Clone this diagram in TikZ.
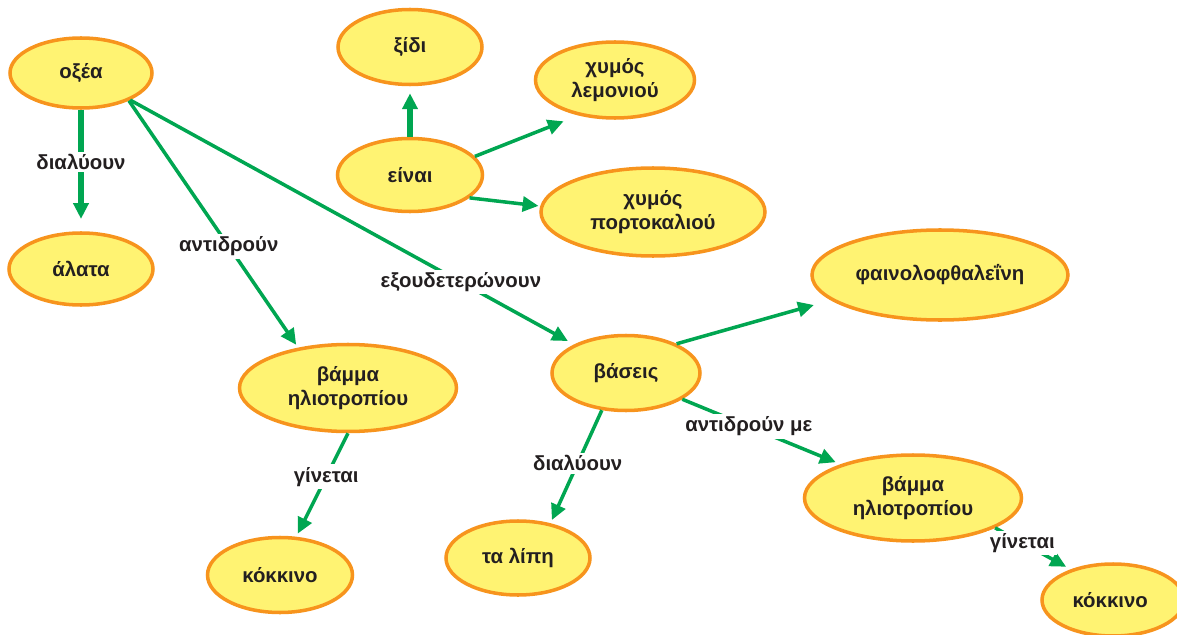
\documentclass[tikz,border=0pt]{standalone}
\usepackage{fontspec}
\setmainfont{Liberation Sans}
\usetikzlibrary{shapes.geometric,arrows.meta}
\definecolor{leaf}{HTML}{00A651}
\definecolor{lemon}{HTML}{FFF372}
\definecolor{peel}{HTML}{F7941D}
\definecolor{ink}{HTML}{231F20}
\tikzset{
  bubble/.style={ellipse,draw=peel,fill=lemon,line width=2pt,inner sep=0pt,text=ink,
    align=center,font=\fontsize{11.6}{13.6}\selectfont\bfseries},
  link/.style={draw=leaf,-{Triangle[length=9pt,width=8.5pt]}},
  verb/.style={fill=white,inner sep=1.5pt,text=ink,font=\fontsize{11.6}{13.6}\selectfont\bfseries}
}
\begin{document}
\begin{tikzpicture}[x=0.02cm,y=-0.02cm]
   \useasboundingbox (0,0) rectangle (1177,635);
   \foreach \n/\x/\y/\w/\h/\t in
     {acid/81/73/142/70/{οξέα},
      salts/81/269/144/72/{άλατα},
      vinegar/410/47/144/75/{ξίδι},
      is/410/175/145/73/{είναι},
      lemon/615/80/159/76/{χυμός\\λεμονιού},
      orange/653/212/224/88/{χυμός\\πορτοκαλιού},
      phenol/940/275/256/90/{φαινολοφθαλεΐνη},
      litmusL/348/388/217/87/{βάμμα\\ηλιοτροπίου},
      bases/626/373/148/75/{βάσεις},
      fats/518/558/144/74/{τα λίπη},
      redL/280/575/145/75/{κόκκινο},
      litmusR/913/498/217/86/{βάμμα\\ηλιοτροπίου},
      redR/1113/600/142/72/{κόκκινο}
     }
     \node[bubble,minimum width=\w*0.02cm,minimum height=\h*0.02cm] (\n) at (\x,\y) {\t};
   % connectors with a verb on them
   \foreach \a/\b/\s/\lw/\p/\l [count=\i] in
     {acid.south/salts.north/7/3/.43/{διαλύουν},
      acid.-30/litmusL.141/2/2/.59/{αντιδρούν},
      acid/bases/4/2/.745/{εξουδετερώνουν},
      litmusL.south/redL.67/2/2/.42/{γίνεται},
      bases.-123/fats.47/2/2/.47/{διαλύουν},
      bases.-25/litmusR.155/3/2/.42/{αντιδρούν με},
      litmusR.-20/redR.144/3/2/.36/{γίνεται}
     }
     \draw[link,line width=\lw pt,shorten >=\s pt] (\a) -- (\b) node[verb,pos=\p] (verb\i) {\l};
   % plain connectors
   \foreach \a/\b/\s/\lw in
     {is.north/vinegar.south/4/3,
      is.16/lemon.-136/9/2,
      is.-21/orange.177/1/2,
      bases.30/phenol.-167/10/2
     }
     \draw[link,line width=\lw pt,shorten >=\s pt] (\a) -- (\b);
\end{tikzpicture}
\end{document}
